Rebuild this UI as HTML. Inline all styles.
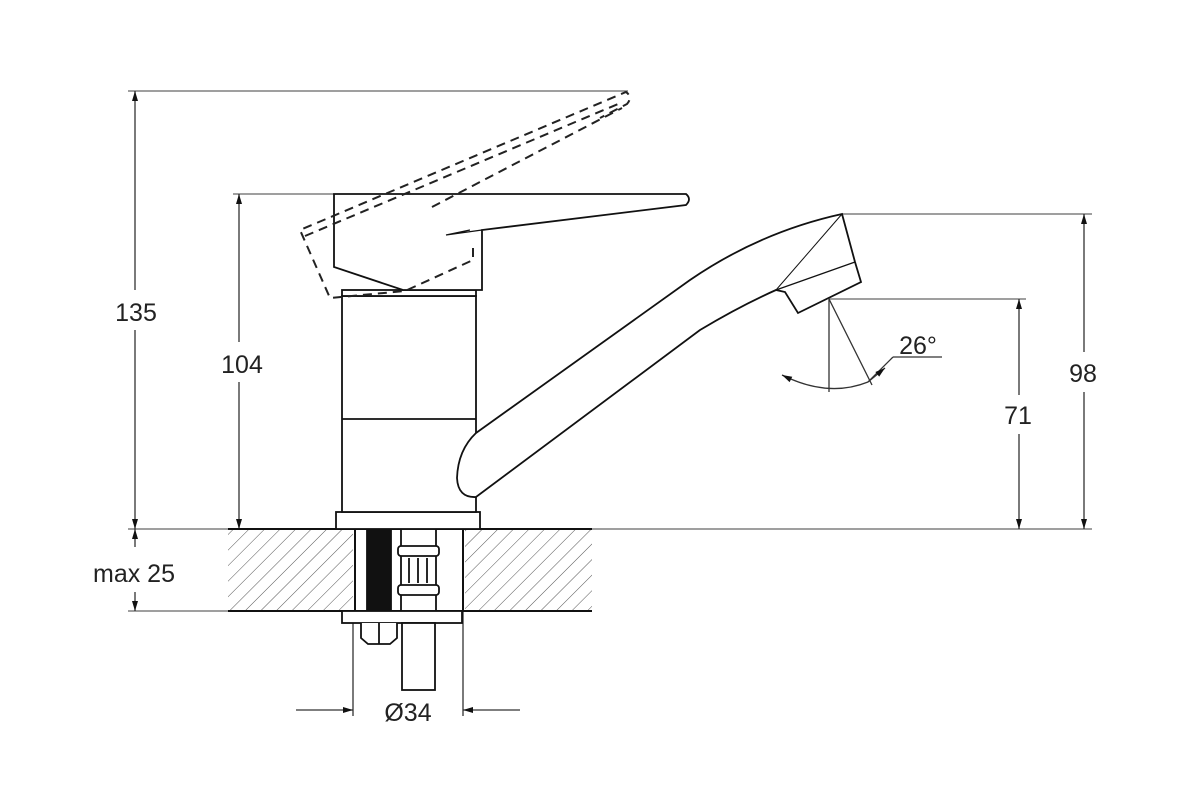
<!DOCTYPE html>
<html><head><meta charset="utf-8"><style>
html,body{margin:0;padding:0;background:#fff}
svg{display:block}
text{font-family:"Liberation Sans",Arial,sans-serif;fill:#222}
</style></head><body>
<svg width="1200" height="799" viewBox="0 0 1200 799" xmlns="http://www.w3.org/2000/svg">
<defs>
<pattern id="h" patternUnits="userSpaceOnUse" width="11" height="11" patternTransform="rotate(45)">
<line x1="0" y1="0" x2="0" y2="11" stroke="#555" stroke-width="1"/>
</pattern>
<marker id="a" viewBox="0 0 10 10" refX="10" refY="5" markerWidth="12" markerHeight="10" orient="auto-start-reverse" markerUnits="userSpaceOnUse">
<path d="M0,2 L10,5 L0,8 z" fill="#111"/>
</marker>
</defs>
<g stroke="#666" stroke-width="1.3" fill="none">
<line x1="128" y1="91" x2="628" y2="91"/>
<line x1="233" y1="194" x2="334" y2="194"/>
<line x1="842" y1="214" x2="1092" y2="214"/>
<line x1="829" y1="299" x2="1026" y2="299"/>
<line x1="128" y1="529" x2="228" y2="529"/>
<line x1="592" y1="529" x2="1092" y2="529"/>
<line x1="128" y1="611" x2="228" y2="611"/>
</g>
<g stroke="#333" stroke-width="1.3" fill="none">
<line x1="135" y1="91" x2="135" y2="290" marker-start="url(#a)"/>
<line x1="135" y1="330" x2="135" y2="529" marker-end="url(#a)"/>
<line x1="135" y1="529" x2="135" y2="547" marker-start="url(#a)"/>
<line x1="135" y1="592" x2="135" y2="611" marker-end="url(#a)"/>
<line x1="239" y1="194" x2="239" y2="342" marker-start="url(#a)"/>
<line x1="239" y1="382" x2="239" y2="529" marker-end="url(#a)"/>
<line x1="1084" y1="214" x2="1084" y2="352" marker-start="url(#a)"/>
<line x1="1084" y1="392" x2="1084" y2="529" marker-end="url(#a)"/>
<line x1="1019" y1="299" x2="1019" y2="395" marker-start="url(#a)"/>
<line x1="1019" y1="434" x2="1019" y2="529" marker-end="url(#a)"/>
<line x1="353" y1="611" x2="353" y2="716"/>
<line x1="463" y1="611" x2="463" y2="716"/>
<line x1="296" y1="710" x2="353" y2="710" marker-end="url(#a)"/>
<line x1="520" y1="710" x2="463" y2="710" marker-end="url(#a)"/>
<line x1="829" y1="299" x2="829" y2="392"/>
<line x1="829" y1="299" x2="872" y2="385"/>
<path d="M782,375 Q828,398 868,382" marker-start="url(#a)"/>
<path d="M868,382 L893,357"/>
<path d="M868,382 L885,368" marker-end="url(#a)"/>
<line x1="893" y1="357" x2="942" y2="357"/>
</g>
<rect x="228" y="529" width="125" height="82" fill="url(#h)"/>
<rect x="465" y="529" width="127" height="82" fill="url(#h)"/>
<g stroke="#111" stroke-width="2" fill="none">
<line x1="228" y1="529" x2="592" y2="529"/>
<line x1="228" y1="611" x2="592" y2="611"/>
<line x1="355" y1="529" x2="355" y2="611"/>
<line x1="463" y1="529" x2="463" y2="611"/>
</g>
<g stroke="#111" stroke-width="1.8" fill="#fff">
<rect x="367" y="529" width="24" height="82" fill="#111"/>
<rect x="401" y="529" width="35" height="82"/>
<rect x="398" y="546" width="41" height="10" rx="3"/>
<rect x="398" y="585" width="41" height="10" rx="3"/>
<line x1="409" y1="558" x2="409" y2="583"/><line x1="418" y1="558" x2="418" y2="583"/><line x1="427" y1="558" x2="427" y2="583"/>
<rect x="342" y="611" width="120" height="12"/>
<path d="M361,623 L361,638 L368,644 L390,644 L397,638 L397,623"/>
<line x1="379" y1="623" x2="379" y2="644"/>
<rect x="402" y="623" width="33" height="67"/>
<rect x="336" y="512" width="144" height="17"/>
<rect x="342" y="296" width="134" height="216"/>
<line x1="342" y1="419" x2="476" y2="419"/>
<rect x="342" y="290" width="134" height="6"/>
<path d="M334,194 L686,194 Q692,199 686,205 L482,230 L482,290 L403,290 L334,267 Z"/>
<path d="M482,230 L446,235 L470,230" fill="none" stroke-width="1.2"/>
<path d="M476,433 L690,280 Q760,232 842,214 L855,262 L861,282 L798,313 L785,292 L776,290 Q740,306 700,330 L476,497 Q458,498 457,478 Q458,450 476,433 Z"/>
<path d="M776,290 L855,262" fill="none" stroke-width="1.3"/>
<path d="M776,290 L842,214" fill="none" stroke-width="1"/>
</g>
<g stroke="#222" stroke-width="2" fill="none" stroke-dasharray="9,6">
<path d="M473,248 L473,260 L405,291 L330,298 L300,230 L626,92 Q633,97 627,104 L600,118"/>
<path d="M305,236 L618,104"/>
<path d="M432,207 L622,108"/>
</g>
<g font-size="25">
<text x="136" y="321" text-anchor="middle">135</text>
<text x="242" y="373" text-anchor="middle">104</text>
<text x="134" y="582" text-anchor="middle">max 25</text>
<text x="1083" y="382" text-anchor="middle">98</text>
<text x="1018" y="424" text-anchor="middle">71</text>
<text x="918" y="354" text-anchor="middle">26°</text>
<text x="408" y="721" text-anchor="middle">Ø34</text>
</g>
</svg>
</body></html>
